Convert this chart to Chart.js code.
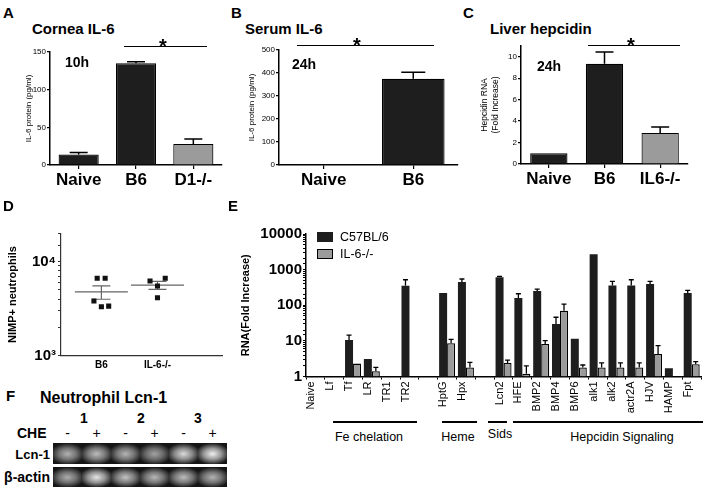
<!DOCTYPE html>
<html>
<head>
<meta charset="utf-8">
<script src="https://cdn.jsdelivr.net/npm/chart.js@4.4.1/dist/chart.umd.min.js"></script>
<style>
  body { margin: 0; background: #fff; width: 707px; height: 491px; position: relative; overflow: hidden;
         font-family: Arial, "Liberation Sans", sans-serif; color: #000; }
  canvas { position: absolute; }
  .t { position: absolute; line-height: 1; white-space: nowrap; z-index: 2; }
  .hl { position: absolute; background: #000; height: 1.5px; z-index: 2; }
</style>
</head>
<body>
<canvas id="chA" width="230" height="160" style="left:0;top:40px"></canvas>
<canvas id="chB" width="235" height="160" style="left:230px;top:40px"></canvas>
<canvas id="chC" width="240" height="160" style="left:460px;top:40px"></canvas>
<canvas id="chD" width="230" height="165" style="left:0;top:220px"></canvas>
<canvas id="chE" width="477" height="200" style="left:230px;top:220px"></canvas>

<script>
// A - cornea IL-6 protein (pg/ml), 10h
var aGroups = ['Naive', 'B6', 'D1-/-'];
var aMeans = [14, 135, 28];
var aErr = [16.5, 137, 34.5];
var aTicks = [0, 50, 100, 150];

// B - serum IL-6 (pg/ml), 24h
var bGroups = ['Naive', 'B6'];
var bMeans = [3, 375];
var bErr = [null, 403];
var bTicks = [0, 100, 200, 300, 400, 500];

// C - liver hepcidin RNA (fold increase), 24h
var cGroups = ['Naive', 'B6', 'IL6-/-'];
var cMeans = [1.0, 9.35, 2.9];
var cErr = [null, 10.45, 3.45];
var cTicks = [0, 2, 4, 6, 8, 10];

// D - NIMP+ neutrophils, single animals
var dGroups = ['B6', 'IL-6-/-'];
var dB6 = [6660, 6660, 3820, 3320, 3370];
var dIL6 = [6230, 6660, 5510, 4140];
var dB6Jitter = [-0.075, 0.067, -0.133, 0, 0.13];
var dIL6Jitter = [-0.133, 0.138, 0, 0];

// E - RNA fold increase ('' = spacer between groups)
var eGenes = ['Naive', 'Lf', 'Tf', 'LR', 'TR1', 'TR2', '', 'HptG', 'Hpx', '', 'Lcn2',
              'HFE', 'BMP2', 'BMP4', 'BMP6', 'alk1', 'alk2', 'actr2A', 'HJV', 'HAMP', 'Fpt'];
var eB6 =     [1, 1, 10.5, 3.1, 1, 350, null, 220, 450, null, 610,
               160, 250, 30, 11.5, 2700, 360, 360, 395, 1.7, 220];
var eB6Err =  [null, null, 14.5, null, null, 520, null, null, 545, null, 650,
               210, 285, 46, null, null, 470, 520, 470, null, 260];
var eIL6 =    [1, 1, 2.3, 1.4, 1, 1, null, 8.6, 1.8, null, 2.4,
               1.2, 8.2, 70, 1.8, 1.8, 1.8, 1.8, 4.3, 1, 2.2];
var eIL6Err = [null, null, null, 1.8, null, null, null, 11, 2.5, null, 2.9,
               2.0, 10.2, 108, 2.1, 2.4, 2.4, 2.4, 7.4, null, 2.6];

// F - gel band brightness per lane
var fLanes = ['-', '+', '-', '+', '-', '+'];
var fLcn1 = [0.70, 0.74, 0.71, 0.64, 0.86, 0.94];
var fActin = [0.68, 0.90, 0.76, 0.72, 0.74, 0.70];

var BLACK = '#1e1e1e', GRAY = '#9b9b9b';
Chart.defaults.font.family = 'Arial, "Liberation Sans", sans-serif';
Chart.defaults.color = '#000';

// upward error bars
var errorBars = {
  id: 'errorBars',
  afterDatasetsDraw: function(chart, args, opts) {
    var ctx = chart.ctx, y = chart.scales.y;
    chart.data.datasets.forEach(function(ds, i) {
      if (!ds.errors) return;
      chart.getDatasetMeta(i).data.forEach(function(bar, j) {
        var e = ds.errors[j];
        if (e == null) return;
        var top = y.getPixelForValue(e);
        ctx.save();
        ctx.strokeStyle = '#000';
        ctx.lineWidth = opts.width;
        ctx.beginPath();
        ctx.moveTo(bar.x, bar.y);
        ctx.lineTo(bar.x, top);
        ctx.moveTo(bar.x - opts.cap / 2, top);
        ctx.lineTo(bar.x + opts.cap / 2, top);
        ctx.stroke();
        ctx.restore();
      });
    });
  }
};

function barChart(id, groups, means, errs, colors, yTicks, o) {
  return new Chart(document.getElementById(id), {
    type: 'bar',
    data: {
      labels: groups,
      datasets: [{ data: means, errors: errs, backgroundColor: colors, borderColor: '#000',
                   borderWidth: 1.2, barPercentage: o.barPct, categoryPercentage: 1 }]
    },
    options: {
      animation: false, responsive: false,
      layout: { padding: o.pad },
      plugins: { legend: { display: false }, tooltip: { enabled: false },
                 errorBars: { cap: o.cap, width: 1.5 } },
      scales: {
        x: {
          grid: { offset: false, drawOnChartArea: false, tickLength: 4, color: '#000', lineWidth: 1.2 },
          border: { color: '#000', width: 1.5 },
          ticks: { font: { size: 17, weight: 'bold' }, padding: 1, maxRotation: 0 },
          afterFit: function(s) { s.height = o.xh; }
        },
        y: {
          min: 0, max: o.max,
          afterBuildTicks: function(s) { s.ticks = yTicks.map(function(v) { return { value: v }; }); },
          ticks: { font: { size: 8 }, padding: 1 },
          grid: { drawOnChartArea: false, tickLength: 3, color: '#000', lineWidth: 1.2 },
          border: { color: '#000', width: 1.5 },
          title: { display: true, text: o.title, font: { size: o.titleSize }, padding: 0 },
          afterFit: function(s) { s.width = o.yw; }
        }
      }
    },
    plugins: [errorBars]
  });
}

barChart('chA', aGroups, aMeans, aErr, [BLACK, BLACK, GRAY], aTicks,
  { barPct: 0.7, pad: { left: 24, top: 12, right: 8, bottom: 0 }, cap: 18, xh: 35, yw: 26,
    max: 150, title: 'IL-6 protein (pg/ml)', titleSize: 8 });
barChart('chB', bGroups, bMeans, bErr, [BLACK, BLACK], bTicks,
  { barPct: 0.7, pad: { left: 17, top: 10, right: 7, bottom: 0 }, cap: 24, xh: 35, yw: 32,
    max: 500, title: 'IL-6 protein (pg/ml)', titleSize: 8 });
barChart('chC', cGroups, cMeans, cErr, [BLACK, BLACK, GRAY], cTicks,
  { barPct: 0.67, pad: { left: 20, top: 6, right: 12, bottom: 0 }, cap: 18, xh: 36, yw: 41,
    max: 11, title: ['Hepcidin RNA', '(Fold Increase)'], titleSize: 8.5 });

// D - scatter with mean +/- SEM
var meanSem = {
  id: 'meanSem',
  beforeDatasetsDraw: function(chart, args, opts) {
    var ctx = chart.ctx, x = chart.scales.x, y = chart.scales.y;
    [dB6, dIL6].forEach(function(vals, k) {
      var n = vals.length;
      var m = vals.reduce(function(a, b) { return a + b; }, 0) / n;
      var sd = Math.sqrt(vals.reduce(function(a, b) { return a + (b - m) * (b - m); }, 0) / (n - 1));
      var sem = sd / Math.sqrt(n);
      var cx = x.getPixelForValue(k + 1);
      var ym = y.getPixelForValue(m), yt = y.getPixelForValue(m + sem), yb = y.getPixelForValue(m - sem);
      ctx.save();
      ctx.strokeStyle = opts.color;
      ctx.lineWidth = 1.2;
      ctx.beginPath();
      ctx.moveTo(cx - opts.meanHalf, ym); ctx.lineTo(cx + opts.meanHalf, ym);
      ctx.moveTo(cx, yt); ctx.lineTo(cx, yb);
      ctx.moveTo(cx - opts.capHalf, yt); ctx.lineTo(cx + opts.capHalf, yt);
      ctx.moveTo(cx - opts.capHalf, yb); ctx.lineTo(cx + opts.capHalf, yb);
      ctx.stroke();
      ctx.restore();
    });
  }
};

var sup = { '0': '\u2070', '1': '\u00b9', '2': '\u00b2', '3': '\u00b3', '4': '\u2074', '5': '\u2075' };
function isPow10(v) { var l = Math.log10(v); return Math.abs(l - Math.round(l)) < 1e-9; }

new Chart(document.getElementById('chD'), {
  type: 'scatter',
  data: {
    datasets: [
      { data: dB6.map(function(v, i) { return { x: 1 + dB6Jitter[i], y: v }; }) },
      { data: dIL6.map(function(v, i) { return { x: 2 + dIL6Jitter[i], y: v }; }) }
    ]
  },
  options: {
    animation: false, responsive: false,
    layout: { padding: { left: 6.4, top: 13.4, right: 8, bottom: 0 } },
    elements: { point: { pointStyle: 'rect', radius: 3.6, backgroundColor: '#111', borderWidth: 0 } },
    plugins: { legend: { display: false }, tooltip: { enabled: false },
               meanSem: { color: '#666', meanHalf: 26.5, capHalf: 9 } },
    scales: {
      x: {
        type: 'linear', min: 0.28, max: 3.15,
        afterBuildTicks: function(s) { s.ticks = dGroups.map(function(g, i) { return { value: i + 1 }; }); },
        ticks: { callback: function(v) { return dGroups[v - 1]; }, font: { size: 10, weight: 'bold' }, padding: 4 },
        grid: { display: false, drawTicks: false },
        border: { display: true, color: '#333', width: 1.2 },
        afterFit: function(s) { s.height = 29.3; }
      },
      y: {
        type: 'logarithmic', min: 1000, max: 20000,
        ticks: { autoSkip: false, padding: 2, font: { size: 15, weight: 'bold' },
                 callback: function(v) {
                   if (!isPow10(v)) return '';
                   return '10' + sup[String(Math.round(Math.log10(v)))];
                 } },
        grid: { drawOnChartArea: false, tickLength: 3, color: '#333' },
        border: { color: '#333', width: 1.2 },
        title: { display: true, text: 'NIMP+ neutrophils', font: { size: 11, weight: 'bold' }, padding: 0 },
        afterFit: function(s) { s.width = 54.6; }
      }
    }
  },
  plugins: [meanSem]
});

// E - grouped log bars
new Chart(document.getElementById('chE'), {
  type: 'bar',
  data: {
    labels: eGenes,
    datasets: [
      { label: 'C57BL/6', data: eB6, errors: eB6Err, backgroundColor: BLACK, borderWidth: 0 },
      { label: 'IL-6-/-', data: eIL6, errors: eIL6Err, backgroundColor: GRAY, borderColor: '#000', borderWidth: 1.3 }
    ]
  },
  options: {
    animation: false, responsive: false,
    datasets: { bar: { barPercentage: 1, categoryPercentage: 0.85 } },
    layout: { padding: { left: 9.4, top: 14, right: 4, bottom: 0 } },
    plugins: { legend: { display: false }, tooltip: { enabled: false }, errorBars: { cap: 5, width: 1.3 } },
    scales: {
      x: {
        grid: { offset: true, drawOnChartArea: false, tickLength: 3, color: '#000' },
        border: { color: '#000', width: 1.5 },
        ticks: { autoSkip: false, minRotation: 90, maxRotation: 90, font: { size: 11 }, padding: 2, labelOffset: -4 },
        afterFit: function(s) { s.height = 43.5; }
      },
      y: {
        type: 'logarithmic', min: 1, max: 10000,
        ticks: { autoSkip: false, padding: 1, font: { size: 15, weight: 'bold' },
                 callback: function(v) { return isPow10(v) ? String(v) : ''; } },
        grid: { drawOnChartArea: false, tickLength: 3, color: '#000' },
        border: { color: '#000', width: 1.5 },
        title: { display: true, text: 'RNA(Fold Increase)', font: { size: 11, weight: 'bold' }, padding: 0 },
        afterFit: function(s) { s.width = 66.6; }
      }
    }
  },
  plugins: [errorBars]
});

// text and decorations (y = vertical centre of capitals)
function txt(s, x, y, size, weight, align) {
  var d = document.createElement('div');
  d.className = 't';
  d.textContent = s;
  d.style.left = x + 'px';
  d.style.top = (y - size / 2) + 'px';
  d.style.fontSize = size + 'px';
  d.style.fontWeight = weight || 'normal';
  if (align === 'center') d.style.transform = 'translateX(-50%)';
  if (align === 'right') d.style.transform = 'translateX(-100%)';
  document.body.appendChild(d);
}
function hline(x1, x2, y) {
  var d = document.createElement('div');
  d.className = 'hl';
  d.style.left = x1 + 'px';
  d.style.top = (y - 0.75) + 'px';
  d.style.width = (x2 - x1) + 'px';
  document.body.appendChild(d);
}
function box(x, y, w, h, bg, border) {
  var d = document.createElement('div');
  d.style.cssText = 'position:absolute;box-sizing:border-box;z-index:2;left:' + x + 'px;top:' + y +
    'px;width:' + w + 'px;height:' + h + 'px;background:' + bg + (border ? ';border:1.5px solid #000' : '');
  document.body.appendChild(d);
}

// panel letters and titles
txt('A', 3, 12, 15, 'bold');
txt('B', 231, 12, 15, 'bold');
txt('C', 463, 12, 15, 'bold');
txt('D', 3, 205, 15, 'bold');
txt('E', 228, 205, 15, 'bold');
txt('F', 6, 395, 15, 'bold');
txt('Cornea IL-6', 32, 28, 15, 'bold');
txt('Serum IL-6', 245, 28, 15, 'bold');
txt('Liver hepcidin', 490, 28, 15, 'bold');
txt('10h', 65, 61.5, 14, 'bold');
txt('24h', 292, 64, 14, 'bold');
txt('24h', 537, 66, 14, 'bold');

// significance bars
hline(124, 207, 46.7); txt('*', 163, 46, 20, 'bold', 'center');
hline(297, 434, 45.7); txt('*', 357, 45, 20, 'bold', 'center');
hline(588, 680, 45.7); txt('*', 631, 45, 20, 'bold', 'center');

// E legend
box(317, 232, 16, 10, BLACK, false);
box(317, 249, 16, 10, GRAY, true);
txt('C57BL/6', 340, 237, 12.5);
txt('IL-6-/-', 340, 254, 12.5);

// E gene groups
hline(333, 417, 422); txt('Fe chelation', 369, 437, 12.5, 'normal', 'center');
hline(442, 477, 422); txt('Heme', 458, 437, 12.5, 'normal', 'center');
hline(488, 507, 422); txt('Sids', 500, 434, 12.5, 'normal', 'center');
hline(513, 703, 422); txt('Hepcidin Signaling', 622, 437, 12.5, 'normal', 'center');

// F gel
txt('Neutrophil Lcn-1', 40, 398, 16, 'bold');
txt('1', 84, 418, 14, 'bold', 'center');
txt('2', 141, 418, 14, 'bold', 'center');
txt('3', 198, 418, 14, 'bold', 'center');
txt('CHE', 17, 433, 14, 'bold');
fLanes.forEach(function(s, i) { txt(s, 53 + 29 * i + 14.5, 433, 14, 'normal', 'center'); });
txt('Lcn-1', 50, 454, 13, 'bold', 'right');
txt('\u03b2-actin', 50, 477, 14, 'bold', 'right');

function gel(top, h, levels) {
  var strip = document.createElement('div');
  strip.style.cssText = 'position:absolute;left:53px;top:' + top + 'px;width:174px;height:' + h +
    'px;background:#151515;display:flex';
  levels.forEach(function(l) {
    var c = Math.round(255 * l);
    var lane = document.createElement('div');
    lane.style.cssText = 'flex:1;background:radial-gradient(ellipse 60% 52% at 50% 52%, rgb(' + c + ',' + c + ',' + c +
      ') 0%, rgba(' + c + ',' + c + ',' + c + ',0.6) 50%, #151515 100%)';
    strip.appendChild(lane);
  });
  document.body.appendChild(strip);
}
gel(443, 21, fLcn1);
gel(467, 20, fActin);
</script>
</body>
</html>
